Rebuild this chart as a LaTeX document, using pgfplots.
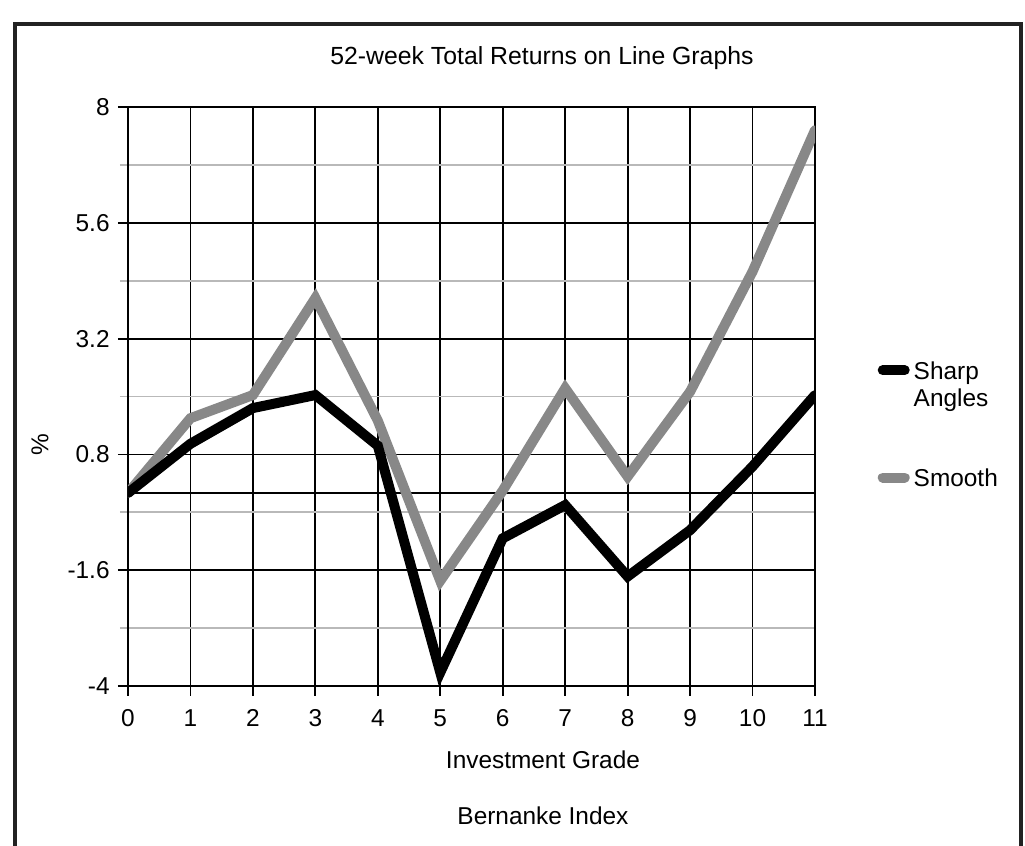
\documentclass[border=0pt]{standalone}
\usepackage{pgfplots}
\pgfplotsset{compat=1.18}
\usepackage{fontspec}
\setmainfont{Liberation Sans}
\definecolor{smoothgray}{RGB}{136,136,136}
\definecolor{minorgray}{RGB}{185,185,185}
\definecolor{framecol}{RGB}{34,34,34}

\begin{document}
\fontsize{12}{13.5}\selectfont
\begin{tikzpicture}
\useasboundingbox (-64pt,-80pt) rectangle (448.5pt,343pt);
\begin{axis}[
  at={(0pt,0pt)}, anchor=south west,
  scale only axis, width=343.5pt, height=289.5pt,
  xmin=0, xmax=11, ymin=-4, ymax=8,
  xtick={0,1,2,3,4,5,6,7,8,9,10,11},
  ytick={-4,-1.6,0.8,3.2,5.6,8},
  yticklabels={-4,-1.6,0.8,3.2,5.6,8},
  minor ytick={-2.8,-0.4,2,4.4,6.8},
  xtick pos=bottom, ytick pos=left,
  grid=both,
  major grid style={black, line width=0.9pt},
  minor grid style={minorgray, line width=0.9pt},
  axis line style={black, line width=0.9pt},
  tick align=outside,
  major tick length=5pt, minor tick length=4pt,
  major tick style={black, line width=0.9pt},
  minor tick style={minorgray, line width=0.9pt},
  extra y ticks={0}, extra y tick labels={},
  extra y tick style={grid=major, major tick length=0pt},
  /pgf/number format/assume math mode=true,
  ticklabel style={font=\fontsize{12.2}{14}\selectfont},
  xticklabel style={yshift=-2.5pt},
  title={52-week Total Returns on Line Graphs},
  title style={at={(axis description cs:0.6026,1.0635)}, anchor=center, font=\fontsize{12.4}{14}\selectfont},
  xlabel={Investment Grade\\[14pt]Bernanke Index},
  xlabel style={align=center, at={(axis description cs:0.604,-0.098)}, anchor=north, font=\fontsize{12.2}{14}\selectfont},
  ylabel={\%},
  ylabel style={at={(axis description cs:-0.128,0.416)}, anchor=center, font=\fontsize{12.2}{14}\selectfont},
  legend style={at={(axis description cs:1.082,0.577)}, anchor=north west, draw=none, fill=none,
    font=\fontsize{12.2}{13.5}\selectfont, cells={anchor=base west}, row sep=39pt},
  legend image code/.code={\path (0pt,0pt); \draw[#1, line cap=round] (0pt,4.5pt) -- (11pt,4.5pt);},
  reverse legend,
]
\addplot[smoothgray, line width=5pt, line cap=round] coordinates {
(0,0) (1,1.55) (2,2.03) (3,4.04) (4,1.5) (5,-1.82) (6,0.05) (7,2.17) (8,0.34) (9,2.1) (10,4.59) (11,7.52)};
\addlegendentry{Smooth}
\addplot[black, line width=5pt, line cap=round] coordinates {
(0,0) (1,1.02) (2,1.76) (3,2.03) (4,0.98) (5,-3.72) (6,-0.94) (7,-0.25) (8,-1.73) (9,-0.77) (10,0.55) (11,2.03)};
\addlegendentry{\begin{tabular}[t]{@{}l@{}}Sharp\\Angles\end{tabular}}
\end{axis}
\draw[framecol, line width=2pt] (-56.5pt,-81pt) -- (-56.5pt,331pt) -- (446.5pt,331pt) -- (446.5pt,-81pt);
\end{tikzpicture}
\end{document}
